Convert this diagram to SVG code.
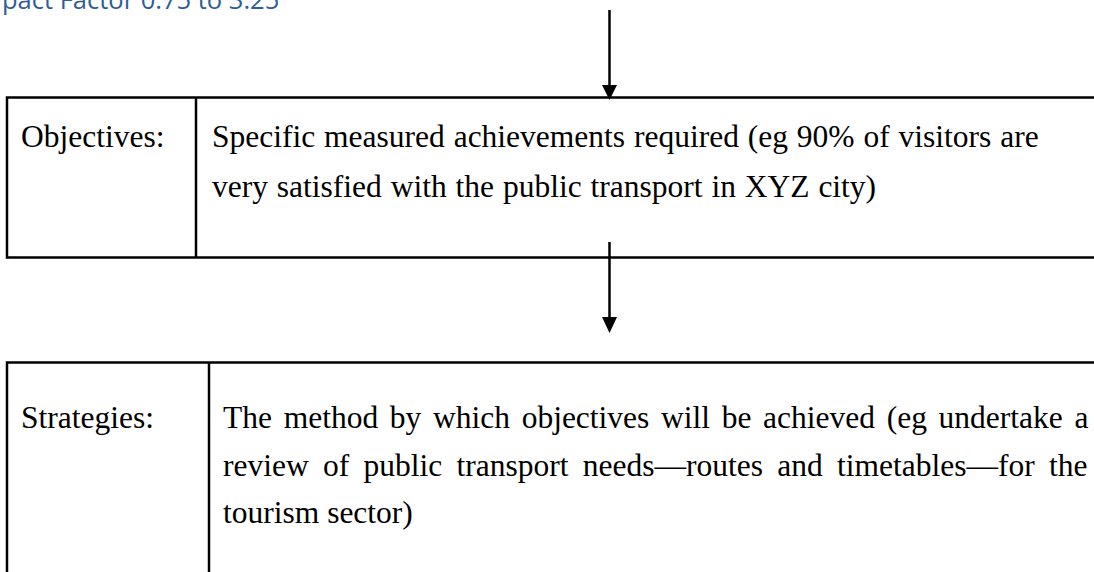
<svg xmlns="http://www.w3.org/2000/svg" width="1094" height="572" viewBox="0 0 1094 572">
<style>
.box{fill:#fff;stroke:#000;stroke-width:2.5}
.ln{stroke:#000;stroke-width:2.5;fill:none}
.t{font-family:"Liberation Serif","Times New Roman",serif;font-size:31.5px;fill:#000}
.hdr{font-family:"Open Sans","Liberation Sans",sans-serif;font-size:25.5px;fill:#2f5d95}
.head{fill:#000}
</style>
<rect width="1094" height="572" fill="#fff"/>
<text class="hdr" x="2" y="9">pact Factor 0.75 to 3.25</text>
<g id="objectives">
<rect class="box" x="7" y="97.5" width="1100" height="160"/>
<line class="ln" x1="196" y1="97.5" x2="196" y2="257.5"/>
<text class="t" x="21" y="147">Objectives:</text>
<text class="t" x="212" y="147" word-spacing="1">Specific measured achievements required (eg 90% of visitors are</text>
<text class="t" x="212" y="197" word-spacing="1">very satisfied with the public transport in XYZ city)</text>
</g>
<g id="strategies">
<rect class="box" x="7" y="362.5" width="1100" height="240"/>
<line class="ln" x1="209" y1="362.5" x2="209" y2="580"/>
<text class="t" x="21" y="428">Strategies:</text>
<text class="t" x="223" y="428" word-spacing="3.8">The method by which objectives will be achieved (eg undertake a</text>
<text class="t" x="223" y="476" word-spacing="6.4">review of public transport needs—routes and timetables—for the</text>
<text class="t" x="223" y="523">tourism sector)</text>
</g>
<g id="connectors">
<line class="ln" x1="609.5" y1="10" x2="609.5" y2="90"/>
<path class="head" d="M602,85 L617,85 L609.5,100 Z"/>
<line class="ln" x1="609.5" y1="242" x2="609.5" y2="320"/>
<path class="head" d="M602,317 L617,317 L609.5,333 Z"/>
</g>
</svg>
